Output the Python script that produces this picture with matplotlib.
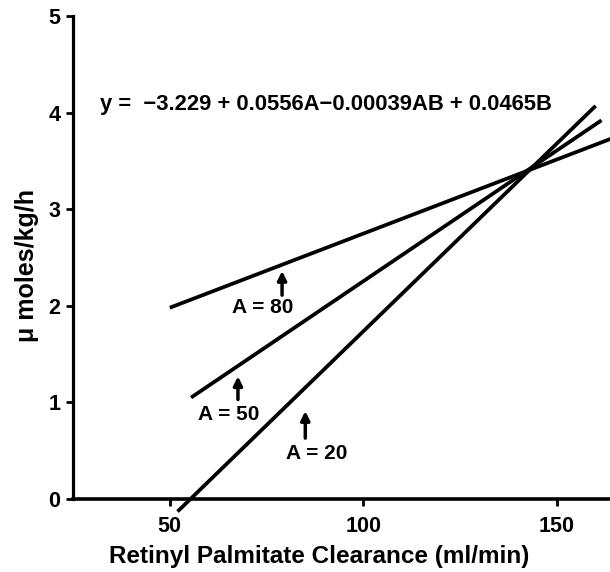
import matplotlib
matplotlib.use("Agg")
import matplotlib.pyplot as plt

plt.rcParams["font.family"] = ["Liberation Sans", "DejaVu Sans"]
plt.rcParams["font.weight"] = "bold"

# end points of the three fitted lines
clear_a80 = [50.0, 164.0]
rate_a80 = [1.98, 3.73]
clear_a50 = [55.5, 161.5]
rate_a50 = [1.05, 3.92]
clear_a20 = [52.0, 160.0]
rate_a20 = [-0.13, 4.07]

x_ticks = [50, 100, 150]
y_ticks = [0, 1, 2, 3, 4, 5]

# label text, label centre, arrow tip, arrow tail (data coords)
labels = ["A = 80", "A = 50", "A = 20"]
label_pos = [(74.1, 1.98), (65.3, 0.87), (88.0, 0.47)]
arrow_tip = [(79.0, 2.36), (67.6, 1.27), (85.0, 0.91)]
arrow_tail = [(79.0, 2.11), (67.6, 1.03), (85.0, 0.63)]

equation = "y =  \u22123.229 + 0.0556A\u22120.00039AB + 0.0465B"

fig = plt.figure(figsize=(6.10, 5.72), dpi=100)
ax = fig.add_axes([73 / 610, 73 / 572, 1 - 73 / 610, (499 - 16) / 572])

for cx, ry in [(clear_a80, rate_a80), (clear_a50, rate_a50), (clear_a20, rate_a20)]:
    ax.plot(cx, ry, color="black", lw=2.7, solid_capstyle="butt", clip_on=False)

ax.set_xlim(25, 163.7)
ax.set_ylim(0, 5)
ax.set_xticks(x_ticks)
ax.set_yticks(y_ticks)
ax.tick_params(direction="out", length=5, width=2, labelsize=15.5, pad=7)
ax.tick_params(axis="y", pad=4)

for side in ["top", "right"]:
    ax.spines[side].set_visible(False)
ax.spines["left"].set_linewidth(2.3)
ax.spines["bottom"].set_linewidth(2.6)

for txt, pos, tip, tail in zip(labels, label_pos, arrow_tip, arrow_tail):
    ax.text(pos[0], pos[1], txt, ha="center", va="center", fontsize=15, fontweight="bold")
    ax.annotate("", xy=tip, xytext=tail,
                arrowprops=dict(arrowstyle="-|>", lw=2.5, color="black", mutation_scale=13,
                                shrinkA=0, shrinkB=0))

ax.text(32.0, 4.08, equation, ha="left", va="center", fontsize=15.8, fontweight="bold")

# axis titles placed where the scan has them (x title is not centred on the axes)
fig.text(319 / 610, 1 - 556 / 572, "Retinyl Palmitate Clearance (ml/min)", ha="center", va="center",
         fontsize=17.5, fontweight="bold")
fig.text(27 / 610, 1 - 266 / 572, "\u03bc moles/kg/h", rotation=90, ha="center", va="center",
         fontsize=18, fontweight="bold")

fig.savefig("out.png", dpi=100)
